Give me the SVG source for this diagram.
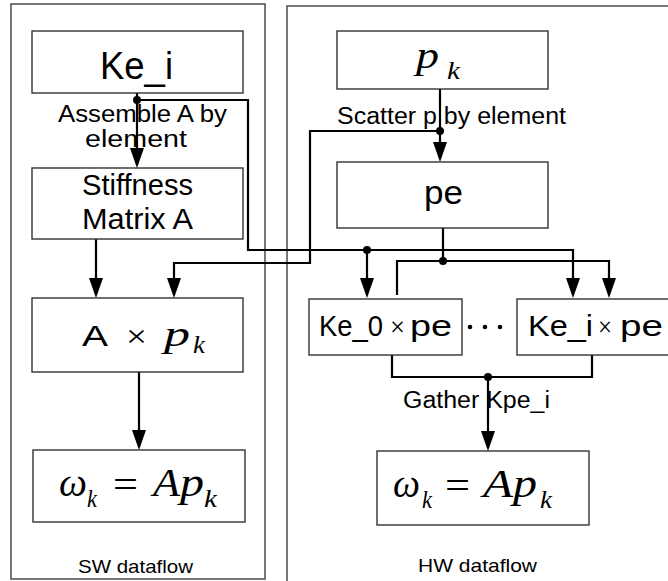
<svg xmlns="http://www.w3.org/2000/svg" width="668" height="581" viewBox="0 0 668 581">
  <style>
    .panel { fill: none; stroke: #4a4a4a; stroke-width: 1.5; }
    .box { fill: #ffffff; stroke: #333333; stroke-width: 1.4; }
    .wire { fill: none; stroke: #000000; stroke-width: 2.2; }
    .arrow { marker-end: url(#head); }
    .dot { fill: #000000; }
    .sans { font-family: "Liberation Sans", Arial, sans-serif; fill: #000000; }
    .math { font-family: "Liberation Serif", "Times New Roman", serif; font-style: italic; fill: #000000; }
    .op { font-family: "Liberation Serif", "Times New Roman", serif; fill: #000000; }
  </style>
  <defs>
    <marker id="head" markerUnits="userSpaceOnUse" markerWidth="20" markerHeight="14" viewBox="0 0 20 14" refX="17" refY="7" orient="auto">
      <path d="M0,0 L20,7 L0,14 z" fill="#000000"/>
    </marker>
  </defs>

  <rect width="668" height="581" fill="#ffffff"/>

  <!-- dataflow panels -->
  <g id="sw-panel">
    <rect class="panel" x="11" y="4" width="254" height="575"/>
    <text class="sans" x="78" y="573" font-size="19" textLength="115" lengthAdjust="spacingAndGlyphs">SW dataflow</text>
  </g>
  <g id="hw-panel">
    <rect class="panel" x="287" y="6" width="420" height="620"/>
    <text class="sans" x="418" y="572" font-size="19" textLength="119" lengthAdjust="spacingAndGlyphs">HW dataflow</text>
  </g>

  <!-- connectors -->
  <g id="connectors">
    <line class="wire arrow" x1="137" y1="93" x2="137" y2="165"/>
    <polyline class="wire arrow" points="137,100 248,100 248,250 573,250 573,295"/>
    <line class="wire arrow" x1="367" y1="250" x2="367" y2="295"/>
    <line class="wire arrow" x1="440" y1="89" x2="440" y2="159"/>
    <polyline class="wire arrow" points="440,131 310,131 310,263 174,263 174,295"/>
    <line class="wire arrow" x1="96" y1="239" x2="96" y2="295"/>
    <line class="wire" x1="443" y1="228" x2="443" y2="261"/>
    <polyline class="wire arrow" points="397,295 397,261 609,261 609,295"/>
    <line class="wire arrow" x1="139" y1="372" x2="139" y2="447"/>
    <polyline class="wire" points="392,355 392,377 592,377 592,355"/>
    <line class="wire arrow" x1="488" y1="377" x2="488" y2="448"/>
    <circle class="dot" cx="137" cy="100" r="4"/>
    <circle class="dot" cx="440" cy="131" r="4"/>
    <circle class="dot" cx="367" cy="250" r="4"/>
    <circle class="dot" cx="443" cy="261" r="4"/>
    <circle class="dot" cx="488" cy="377" r="4"/>
    <text class="sans" x="58" y="122" font-size="23" textLength="169" lengthAdjust="spacingAndGlyphs">Assemble A by</text>
    <text class="sans" x="85" y="147" font-size="23" textLength="102" lengthAdjust="spacingAndGlyphs">element</text>
    <text class="sans" x="337" y="124" font-size="23" textLength="229" lengthAdjust="spacingAndGlyphs">Scatter p by element</text>
    <text class="sans" x="403" y="408" font-size="23" textLength="147" lengthAdjust="spacingAndGlyphs">Gather Kpe_i</text>
  </g>

  <!-- SW nodes -->
  <g id="ke-i">
    <rect class="box" x="32" y="31" width="211" height="62"/>
    <text class="sans" x="100" y="79" font-size="38" textLength="73" lengthAdjust="spacingAndGlyphs">Ke_i</text>
  </g>
  <g id="stiffness">
    <rect class="box" x="32" y="168" width="211" height="71"/>
    <text class="sans" x="82" y="195" font-size="30" textLength="111" lengthAdjust="spacingAndGlyphs">Stiffness</text>
    <text class="sans" x="82" y="229" font-size="30" textLength="111" lengthAdjust="spacingAndGlyphs">Matrix A</text>
  </g>
  <g id="a-times-p">
    <rect class="box" x="32" y="298" width="211" height="74"/>
    <text class="sans" x="82" y="346" font-size="29" textLength="26" lengthAdjust="spacingAndGlyphs">A</text>
    <text class="op" x="126" y="347" font-size="32" textLength="21" lengthAdjust="spacingAndGlyphs">×</text>
    <text class="math" x="164" y="346" font-size="36" textLength="26" lengthAdjust="spacingAndGlyphs">p</text>
    <text class="math" x="193" y="353" font-size="25" textLength="12" lengthAdjust="spacingAndGlyphs">k</text>
  </g>
  <g id="sw-result">
    <rect class="box" x="33" y="450" width="212" height="72"/>
    <text class="math" x="59" y="496" font-size="40" textLength="28" lengthAdjust="spacingAndGlyphs">ω</text>
    <text class="math" x="87" y="507" font-size="25" textLength="10" lengthAdjust="spacingAndGlyphs">k</text>
    <text class="op" x="113" y="498" font-size="40" textLength="25" lengthAdjust="spacingAndGlyphs">=</text>
    <text class="math" x="153" y="496" font-size="40" textLength="27" lengthAdjust="spacingAndGlyphs">A</text>
    <text class="math" x="180" y="496" font-size="40" textLength="24" lengthAdjust="spacingAndGlyphs">p</text>
    <text class="math" x="204" y="507" font-size="25" textLength="13" lengthAdjust="spacingAndGlyphs">k</text>
  </g>

  <!-- HW nodes -->
  <g id="p-k">
    <rect class="box" x="337" y="31" width="211" height="58"/>
    <text class="math" x="416" y="68" font-size="38" textLength="23" lengthAdjust="spacingAndGlyphs">p</text>
    <text class="math" x="447" y="79" font-size="25" textLength="13" lengthAdjust="spacingAndGlyphs">k</text>
  </g>
  <g id="pe">
    <rect class="box" x="337" y="162" width="211" height="66"/>
    <text class="sans" x="424" y="204" font-size="33" textLength="39" lengthAdjust="spacingAndGlyphs">pe</text>
  </g>
  <g id="ke0-pe">
    <rect class="box" x="309" y="299" width="153" height="56"/>
    <text class="sans" x="319" y="336" font-size="30" textLength="64" lengthAdjust="spacingAndGlyphs">Ke_0</text>
    <text class="op" x="390" y="336" font-size="27" textLength="15" lengthAdjust="spacingAndGlyphs">×</text>
    <text class="sans" x="410" y="336" font-size="30" textLength="42" lengthAdjust="spacingAndGlyphs">pe</text>
  </g>
  <g id="ellipsis">
    <circle class="dot" cx="470" cy="327" r="2.3"/>
    <circle class="dot" cx="485" cy="327" r="2.3"/>
    <circle class="dot" cx="500" cy="327" r="2.3"/>
  </g>
  <g id="kei-pe">
    <rect class="box" x="517" y="299" width="200" height="56"/>
    <text class="sans" x="528" y="336" font-size="30" textLength="65" lengthAdjust="spacingAndGlyphs">Ke_i</text>
    <text class="op" x="598" y="336" font-size="27" textLength="14" lengthAdjust="spacingAndGlyphs">×</text>
    <text class="sans" x="620" y="336" font-size="30" textLength="43" lengthAdjust="spacingAndGlyphs">pe</text>
  </g>
  <g id="hw-result">
    <rect class="box" x="377" y="451" width="212" height="74"/>
    <text class="math" x="393" y="497" font-size="40" textLength="27" lengthAdjust="spacingAndGlyphs">ω</text>
    <text class="math" x="422" y="508" font-size="25" textLength="10" lengthAdjust="spacingAndGlyphs">k</text>
    <text class="op" x="445" y="499" font-size="40" textLength="25" lengthAdjust="spacingAndGlyphs">=</text>
    <text class="math" x="483" y="497" font-size="40" textLength="30" lengthAdjust="spacingAndGlyphs">A</text>
    <text class="math" x="513" y="497" font-size="40" textLength="24" lengthAdjust="spacingAndGlyphs">p</text>
    <text class="math" x="540" y="508" font-size="25" textLength="12" lengthAdjust="spacingAndGlyphs">k</text>
  </g>
</svg>
